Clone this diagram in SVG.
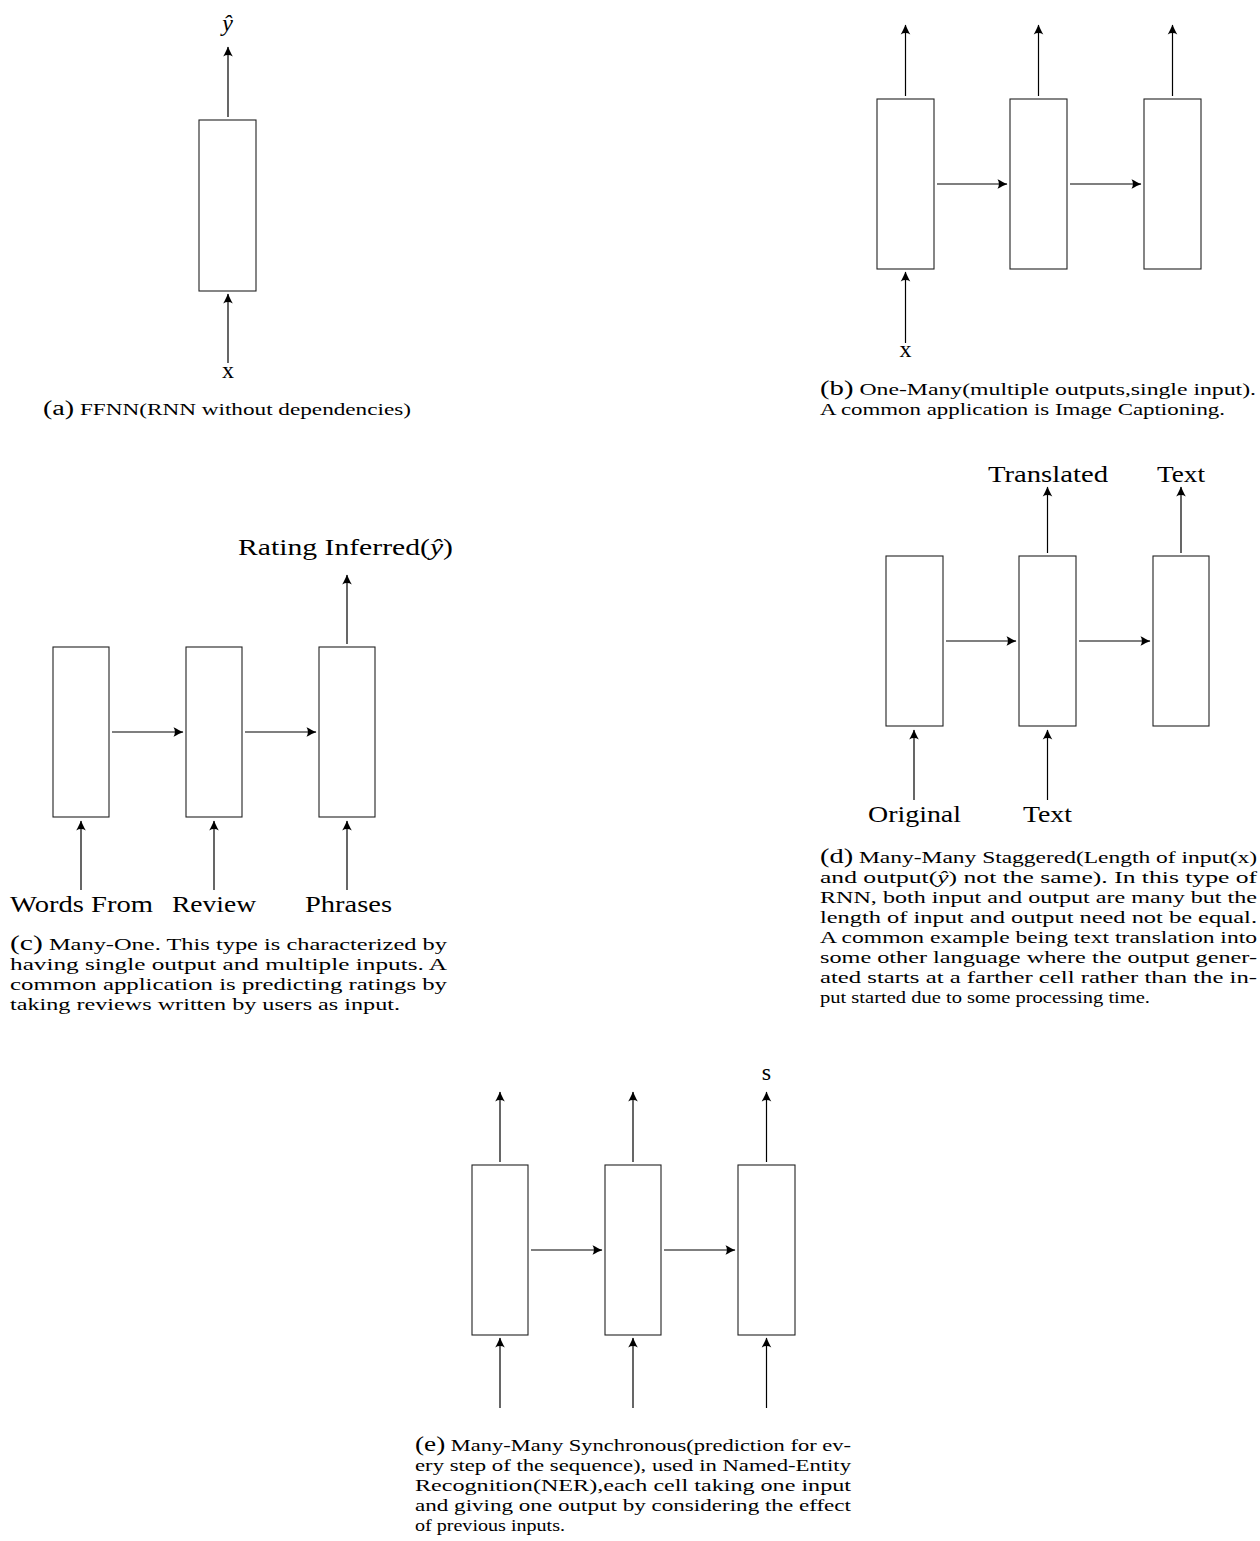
<svg xmlns="http://www.w3.org/2000/svg" width="1260" height="1541" viewBox="0 0 1260 1541">
  <style>
    .cell { fill: #ffffff; stroke: #222222; stroke-width: 1.1; }
    .wire { fill: none; stroke: #000000; stroke-width: 1.2; marker-end: url(#tip); }
    .lbl { font-family: "Liberation Serif", "DejaVu Serif", serif; font-size: 24px; fill: #000000; }
    .cap { font-family: "Liberation Serif", "DejaVu Serif", serif; font-size: 16.5px; fill: #000000; }
    .tag { font-size: 20px; }
    .it { font-style: italic; }
  </style>
  <defs>
    <marker id="tip" viewBox="-11 -6 12 12" refX="0" refY="0" markerWidth="12" markerHeight="12" orient="auto" markerUnits="userSpaceOnUse">
      <path d="M0.5,0 C-2.5,-1 -6,-3 -9.5,-4.8 C-7.6,-1.8 -7.6,1.8 -9.5,4.8 C-6,3 -2.5,1 0.5,0 Z" fill="#000000"/>
    </marker>
  </defs>

  <rect width="1260" height="1541" fill="#ffffff"/>

  <!-- (a) single feed-forward cell -->
  <g id="a-cell"><rect class="cell" x="199" y="120" width="57" height="171"/></g>
  <g id="a-out"><text class="lbl it" x="227.5" y="31" text-anchor="middle">ŷ</text></g>
  <g id="a-in"><text class="lbl" x="228" y="378" text-anchor="middle">x</text></g>

  <!-- (b) one-to-many -->
  <g id="b-cell1"><rect class="cell" x="877" y="99" width="57" height="170"/></g>
  <g id="b-cell2"><rect class="cell" x="1010" y="99" width="57" height="170"/></g>
  <g id="b-cell3"><rect class="cell" x="1144" y="99" width="57" height="170"/></g>
  <g id="b-in"><text class="lbl" x="905.5" y="357" text-anchor="middle">x</text></g>

  <!-- (c) many-to-one -->
  <g id="c-cell1"><rect class="cell" x="53" y="647" width="56" height="170"/></g>
  <g id="c-cell2"><rect class="cell" x="186" y="647" width="56" height="170"/></g>
  <g id="c-cell3"><rect class="cell" x="319" y="647" width="56" height="170"/></g>
  <g id="c-out"><text class="lbl" x="238" y="555" textLength="215" lengthAdjust="spacingAndGlyphs">Rating Inferred(<tspan class="it">ŷ</tspan>)</text></g>
  <g id="c-in1"><text class="lbl" x="10" y="912" textLength="143" lengthAdjust="spacingAndGlyphs">Words From</text></g>
  <g id="c-in2"><text class="lbl" x="172" y="912" textLength="84" lengthAdjust="spacingAndGlyphs">Review</text></g>
  <g id="c-in3"><text class="lbl" x="305" y="912" textLength="87" lengthAdjust="spacingAndGlyphs">Phrases</text></g>

  <!-- (d) many-to-many, staggered -->
  <g id="d-cell1"><rect class="cell" x="886" y="556" width="57" height="170"/></g>
  <g id="d-cell2"><rect class="cell" x="1019" y="556" width="57" height="170"/></g>
  <g id="d-cell3"><rect class="cell" x="1153" y="556" width="56" height="170"/></g>
  <g id="d-out2"><text class="lbl" x="988" y="482" textLength="120" lengthAdjust="spacingAndGlyphs">Translated</text></g>
  <g id="d-out3"><text class="lbl" x="1157" y="482" textLength="48" lengthAdjust="spacingAndGlyphs">Text</text></g>
  <g id="d-in1"><text class="lbl" x="868" y="822" textLength="93" lengthAdjust="spacingAndGlyphs">Original</text></g>
  <g id="d-in2"><text class="lbl" x="1023" y="822" textLength="49" lengthAdjust="spacingAndGlyphs">Text</text></g>

  <!-- (e) many-to-many, synchronous -->
  <g id="e-cell1"><rect class="cell" x="472" y="1165" width="56" height="170"/></g>
  <g id="e-cell2"><rect class="cell" x="605" y="1165" width="56" height="170"/></g>
  <g id="e-cell3"><rect class="cell" x="738" y="1165" width="57" height="170"/></g>
  <g id="e-out3"><text class="lbl" x="766.5" y="1080" text-anchor="middle">s</text></g>

  <!-- connectors -->
  <g id="connectors">
    <path class="wire" d="M228,117 V47"/>
    <path class="wire" d="M228,363 V294"/>

    <path class="wire" d="M905.5,96 V25"/>
    <path class="wire" d="M1038.5,96 V25"/>
    <path class="wire" d="M1172.5,96 V25"/>
    <path class="wire" d="M937,184 H1007"/>
    <path class="wire" d="M1070,184 H1141"/>
    <path class="wire" d="M905.5,343 V272"/>

    <path class="wire" d="M112,732 H183"/>
    <path class="wire" d="M245,732 H316"/>
    <path class="wire" d="M347,644 V575"/>
    <path class="wire" d="M81,890 V821"/>
    <path class="wire" d="M214,890 V821"/>
    <path class="wire" d="M347,890 V821"/>

    <path class="wire" d="M946,641 H1016"/>
    <path class="wire" d="M1079,641 H1150"/>
    <path class="wire" d="M1047.5,553 V487"/>
    <path class="wire" d="M1181,553 V487"/>
    <path class="wire" d="M914,800 V730"/>
    <path class="wire" d="M1047.5,800 V730"/>

    <path class="wire" d="M531,1250 H602"/>
    <path class="wire" d="M664,1250 H735"/>
    <path class="wire" d="M500,1162 V1092"/>
    <path class="wire" d="M633,1162 V1092"/>
    <path class="wire" d="M766.5,1162 V1092"/>
    <path class="wire" d="M500,1408 V1338"/>
    <path class="wire" d="M633,1408 V1338"/>
    <path class="wire" d="M766.5,1408 V1338"/>
  </g>

  <!-- sub-figure captions -->
  <g id="caption-a">
    <text class="cap" x="43" y="415" textLength="368" lengthAdjust="spacingAndGlyphs"><tspan class="tag">(a)</tspan> FFNN(RNN without dependencies)</text>
  </g>
  <g id="caption-b">
    <text class="cap" x="820" y="395" textLength="436" lengthAdjust="spacingAndGlyphs"><tspan class="tag">(b)</tspan> One-Many(multiple outputs,single input).</text>
    <text class="cap" x="820" y="415" textLength="405" lengthAdjust="spacingAndGlyphs">A common application is Image Captioning.</text>
  </g>
  <g id="caption-c">
    <text class="cap" x="10" y="950" textLength="437" lengthAdjust="spacingAndGlyphs"><tspan class="tag">(c)</tspan> Many-One.  This type is characterized by</text>
    <text class="cap" x="10" y="970" textLength="437" lengthAdjust="spacingAndGlyphs">having single output and multiple inputs.  A</text>
    <text class="cap" x="10" y="990" textLength="437" lengthAdjust="spacingAndGlyphs">common application is predicting ratings by</text>
    <text class="cap" x="10" y="1010" textLength="390" lengthAdjust="spacingAndGlyphs">taking reviews written by users as input.</text>
  </g>
  <g id="caption-d">
    <text class="cap" x="820" y="863" textLength="437" lengthAdjust="spacingAndGlyphs"><tspan class="tag">(d)</tspan> Many-Many Staggered(Length of input(x)</text>
    <text class="cap" x="820" y="883" textLength="437" lengthAdjust="spacingAndGlyphs">and output(<tspan class="it">ŷ</tspan>) not the same).  In this type of</text>
    <text class="cap" x="820" y="903" textLength="437" lengthAdjust="spacingAndGlyphs">RNN, both input and output are many but the</text>
    <text class="cap" x="820" y="923" textLength="437" lengthAdjust="spacingAndGlyphs">length of input and output need not be equal.</text>
    <text class="cap" x="820" y="943" textLength="437" lengthAdjust="spacingAndGlyphs">A common example being text translation into</text>
    <text class="cap" x="820" y="963" textLength="437" lengthAdjust="spacingAndGlyphs">some other language where the output gener-</text>
    <text class="cap" x="820" y="983" textLength="437" lengthAdjust="spacingAndGlyphs">ated starts at a farther cell rather than the in-</text>
    <text class="cap" x="820" y="1003" textLength="330" lengthAdjust="spacingAndGlyphs">put started due to some processing time.</text>
  </g>
  <g id="caption-e">
    <text class="cap" x="415" y="1451" textLength="436" lengthAdjust="spacingAndGlyphs"><tspan class="tag">(e)</tspan> Many-Many Synchronous(prediction for ev-</text>
    <text class="cap" x="415" y="1471" textLength="436" lengthAdjust="spacingAndGlyphs">ery step of the sequence), used in Named-Entity</text>
    <text class="cap" x="415" y="1491" textLength="436" lengthAdjust="spacingAndGlyphs">Recognition(NER),each cell taking one input</text>
    <text class="cap" x="415" y="1511" textLength="436" lengthAdjust="spacingAndGlyphs">and giving one output by considering the effect</text>
    <text class="cap" x="415" y="1531" textLength="150" lengthAdjust="spacingAndGlyphs">of previous inputs.</text>
  </g>
</svg>
